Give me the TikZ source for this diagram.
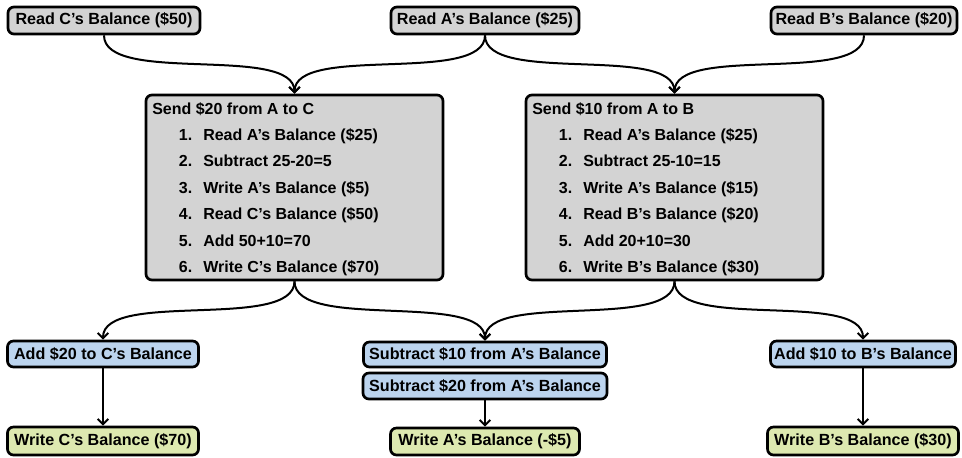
\documentclass[tikz,border=0pt]{standalone}
\usepackage{fontspec}
\setmainfont{Liberation Sans}
\usetikzlibrary{arrows.meta}
\definecolor{boxgray}{RGB}{211,211,211}
\definecolor{boxblue}{RGB}{188,212,238}
\definecolor{boxgreen}{RGB}{221,233,176}
\begin{document}
\begin{tikzpicture}[x=0.75pt,y=-0.75pt,
  box/.style={draw=black,line width=2pt,rounded corners=4.5pt,inner sep=0pt,
    font=\fontsize{12.1}{14.4}\selectfont\bfseries},
  gbox/.style={box,fill=boxgray},
  bbox/.style={box,fill=boxblue},
  ybox/.style={box,fill=boxgreen},
  conn/.style={draw=black,line width=1.5pt,-{Straight Barb[length=4pt,width=8pt]}},
  steps/.style={inner sep=0pt,anchor=base west,font=\fontsize{12}{14.4}\selectfont\bfseries}
]
\fill[white] (0,0) rectangle (962,457);
\useasboundingbox (0,0) rectangle (962,457);

% top row
\node[gbox,minimum width=144pt,minimum height=20.25pt] (rc) at (104,20.5) {Read C’s Balance (\$50)};
\node[gbox,minimum width=141pt,minimum height=20.25pt] (ra) at (485,20.5) {Read A’s Balance (\$25)};
\node[gbox,minimum width=139.5pt,minimum height=20.25pt] (rb) at (864,20.5) {Read B’s Balance (\$20)};

% transaction boxes
\node[gbox,minimum width=222.75pt,minimum height=138.75pt] (s1) at (294.5,187.5) {};
\node[gbox,minimum width=222.75pt,minimum height=138.75pt] (s2) at (674.5,187.5) {};

\node[steps] (s1t) at (152,114) {\renewcommand\arraystretch{1.378}%
\begin{tabular}[t]{@{}r@{\hspace{8.25pt}}l@{}}
\multicolumn{2}{@{}l@{}}{Send \$20 from A to C}\\
\makebox[30pt][r]{1.} & Read A’s Balance (\$25)\\
\makebox[30pt][r]{2.} & Subtract 25-20=5\\
\makebox[30pt][r]{3.} & Write A’s Balance (\$5)\\
\makebox[30pt][r]{4.} & Read C’s Balance (\$50)\\
\makebox[30pt][r]{5.} & Add 50+10=70\\
\makebox[30pt][r]{6.} & Write C’s Balance (\$70)
\end{tabular}};

\node[steps] (s2t) at (532,114) {\renewcommand\arraystretch{1.378}%
\begin{tabular}[t]{@{}r@{\hspace{8.25pt}}l@{}}
\multicolumn{2}{@{}l@{}}{Send \$10 from A to B}\\
\makebox[30pt][r]{1.} & Read A’s Balance (\$25)\\
\makebox[30pt][r]{2.} & Subtract 25-10=15\\
\makebox[30pt][r]{3.} & Write A’s Balance (\$15)\\
\makebox[30pt][r]{4.} & Read B’s Balance (\$20)\\
\makebox[30pt][r]{5.} & Add 20+10=30\\
\makebox[30pt][r]{6.} & Write B’s Balance (\$30)
\end{tabular}};

% middle row
\node[bbox,minimum width=143.25pt,minimum height=19.5pt] (ac) at (103,354) {Add \$20 to C’s Balance};
\node[bbox,minimum width=182.25pt,minimum height=18.75pt] (sa10) at (485,354.5) {Subtract \$10 from A’s Balance};
\node[bbox,minimum width=183pt,minimum height=19.5pt] (sa20) at (485,386) {Subtract \$20 from A’s Balance};
\node[bbox,minimum width=138.75pt,minimum height=19.5pt] (ab) at (863,354) {Add \$10 to B’s Balance};

% bottom row
\node[ybox,minimum width=143.25pt,minimum height=21pt] (wc) at (103,441) {Write C’s Balance (\$70)};
\node[ybox,minimum width=141.75pt,minimum height=20.25pt] (wa) at (485,441.5) {Write A’s Balance (-\$5)};
\node[ybox,minimum width=143.25pt,minimum height=21pt] (wb) at (863,441) {Write B’s Balance (\$30)};

% connectors top
\draw[conn] (rc.south) .. controls +(0,50) and +(0,-50) .. (s1.north);
\draw[conn] (ra.south) .. controls +(0,50) and +(0,-50) .. (s1.north);
\draw[conn] (ra.south) .. controls +(0,50) and +(0,-50) .. (s2.north);
\draw[conn] (rb.south) .. controls +(0,50) and +(0,-50) .. (s2.north);

% connectors bottom
\draw[conn] (s1.south) .. controls +(0,50) and +(0,-50) .. (ac.north);
\draw[conn] (s1.south) .. controls +(0,50) and +(0,-50) .. (sa10.north);
\draw[conn] (s2.south) .. controls +(0,50) and +(0,-50) .. (sa10.north);
\draw[conn] (s2.south) .. controls +(0,50) and +(0,-50) .. (ab.north);

% vertical
\draw[conn] (ac.south) -- (ac.south |- wc.north);
\draw[conn] (sa20.south) -- (sa20.south |- wa.north);
\draw[conn] (ab.south) -- (ab.south |- wb.north);
\end{tikzpicture}
\end{document}
